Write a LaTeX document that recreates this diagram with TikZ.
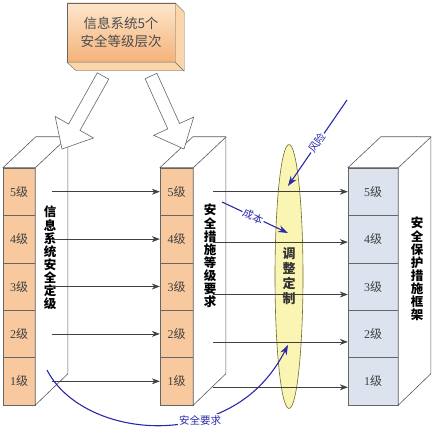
\documentclass[tikz,border=0pt]{standalone}
\usepackage{fontspec}
\setmainfont{Liberation Serif}
\newfontfamily\cjk{Noto Sans CJK SC}
\usetikzlibrary{arrows.meta, shapes.geometric}
\definecolor{peach}{HTML}{F8C89E}
\definecolor{peachlt}{HTML}{FDE6CC}
\definecolor{peachdk}{HTML}{F5B27A}
\definecolor{peachside}{HTML}{FAD6AA}
\definecolor{steel}{HTML}{DCE3EE}
\definecolor{lemon}{HTML}{FBF5B4}
\definecolor{rimolive}{HTML}{6E6A2C}
\definecolor{navyline}{HTML}{2A2AA8}
\tikzset{
  face/.style={draw=black!65, fill=white, line join=round, line width=0.6pt},
  cell/.style={draw=black!60, fill=peach, minimum width=32pt, minimum height=47.4pt, inner sep=0pt,
    text=black!75, font=\fontsize{12}{14}\selectfont},
  midcell/.style={cell, minimum width=33pt},
  bluecell/.style={cell, fill=steel, minimum width=50pt},
  vlabel/.style={align=center, inner sep=1pt, font=\cjk\bfseries\fontsize{12.5}{13.1}\selectfont},
  arr/.style={-{Stealth[length=8pt,width=6pt]}, draw=black!75, line width=0.7pt},
  barr/.style={-{Stealth[length=10pt,width=7pt]}, draw=navyline, line width=1.1pt},
  blab/.style={sloped, fill=white, inner sep=1pt, text=navyline, font=\cjk\fontsize{10.5}{11}\selectfont},
  bigarrow/.style={draw=black!60, fill=white, line width=0.6pt, line join=miter},
}

\begin{document}
\begin{tikzpicture}[x=1pt, y=-1pt]
  \useasboundingbox (0,0) rectangle (433,438);

  % top box
  \node[draw=black!60, top color=peachlt, bottom color=peachdk, minimum width=108pt, minimum height=59pt,
    align=center, text=black!70, font=\cjk\fontsize{13.5}{18}\selectfont] (lvls) at (121,32.5)
    {信息系统5个\\安全等级层次};
  \draw[draw=black!60, fill=peachside, line join=round] (lvls.north east) -- ++(9,9) -- ++(0,59) -- ++(-108,0)
    -- (lvls.south west) -- (lvls.south east) -- cycle;
  \draw[draw=black!60] (lvls.south east) -- ++(9,9);

  % three columns of levels
  \foreach \i/\y in {5/191.7, 4/239.1, 3/286.5, 2/333.9, 1/381.3} {
    \node[cell] (l\i) at (19,\y) {\i{\cjk 级}};
    \node[midcell] (m\i) at (176.5,\y) {\i{\cjk 级}};
    \node[bluecell] (r\i) at (373,\y) {\i{\cjk 级}};
  }
  \foreach \c/\w in {l/32, m/33, r/50} {
    \draw[face] (\c5.north west) -- ++(33,-31) -- ++(\w,0) -- ++(0,237) -- (\c1.south east)
      -- (\c5.north east) -- cycle;
    \draw[face] (\c5.north east) -- ++(33,-31);
  }

  \node[vlabel] (lname) at (50,258) {信\\息\\系\\统\\安\\全\\定\\级};
  \node[vlabel] (mname) at (210,256) {安\\全\\措\\施\\等\\级\\要\\求};
  \node[vlabel] (rname) at (417,269) {安\\全\\保\\护\\措\\施\\框\\架};

  % hollow arrows from the top box
  \draw[bigarrow] (97.3,72.8) -- (108.7,79.2) -- (80,130.4) -- (93.5,138) -- (62,149) -- (55.1,116.4)
    -- (68.6,124) -- cycle;
  \draw[bigarrow] (145.1,78.7) -- (156.9,73.3) -- (179.6,123.5) -- (193.7,117.1) -- (184,149)
    -- (153.7,135.3) -- (167.8,128.9) -- cycle;

  % adjusting ellipse
  \node[ellipse, draw=rimolive, fill=lemon, line width=0.6pt, minimum width=28pt, minimum height=264pt,
    inner sep=0pt, align=center, text=black!80, font=\cjk\bfseries\fontsize{13}{15}\selectfont] (adj)
    at (289,276.5) {调\\整\\定\\制};

  \foreach \i/\d in {5/0, 4/-3, 3/-8, 2/-8, 1/-6} {
    \draw[arr] ([xshift=17pt]l\i.east) -- (m\i.west);
    \draw[arr] ([xshift=20pt, yshift=\d pt]m\i.east) -- ([yshift=\d pt]r\i.west);
  }

  % influences
  \coordinate (riskA) at (347,100);
  \coordinate (riskB) at (288,186);
  \coordinate (costA) at (222,202);
  \coordinate (costB) at (288,233);
  \coordinate (needA) at (47,370);
  \coordinate (needB) at (288,345);
  \draw[barr] (riskA) -- node[blab, pos=0.5] {风险} (riskB);
  \draw[barr] (costA) -- node[blab, pos=0.47] {成本} (costB);
  \draw[barr] (needA) .. controls (70,415) and (140,437) .. (200,420) node[blab] {安全要求}
    .. controls (245,407) and (270,380) .. (needB);
\end{tikzpicture}
\end{document}
